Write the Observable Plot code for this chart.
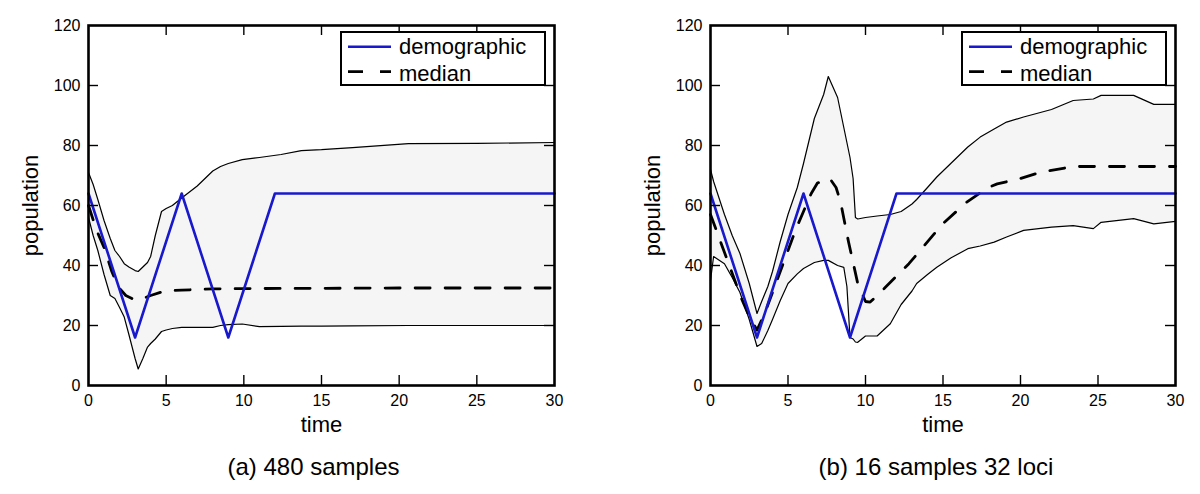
<!DOCTYPE html>
<html><head><meta charset="utf-8">
<script src="https://cdn.jsdelivr.net/npm/d3@7"></script>
<script src="https://cdn.jsdelivr.net/npm/@observablehq/plot@0.6"></script>
<style>
body{margin:0;background:#fff;}
#wrap{display:flex;width:1200px;height:494px;}
svg{display:block;}
</style>
</head><body><div id="wrap"></div>
<script>
// ---- data ----
const xTicks = [0, 5, 10, 15, 20, 25, 30];
const yTicks = [0, 20, 40, 60, 80, 100, 120];

const demoTime = [0, 3, 6, 9, 12, 30];
const demoPop  = [64, 16, 64, 16, 64, 64];

// panel (a) 480 samples
const timeA  = [0,0.3,0.6,1,1.4,1.7,2,2.3,2.6,3,3.2,3.5,3.8,4,4.3,4.7,5,5.4,6,7,8,8.5,9,9.9,11,12.4,13.7,15,17,20.6,25,30];
const upperA = [71,67,62,55,49,45,43,40.6,39.5,38.3,38,39.5,41,43,50,58,59,60,62.5,66.5,71.5,73,74,75.3,76,77,78.3,78.6,79.3,80.6,80.7,81];
const lowerA = [56,50,45,37,30,29,26,22.8,17,9,5.5,9,12.8,14,15.5,18,18.5,19,19.4,19.4,19.4,20,20.3,20.5,19.6,19.7,19.8,19.8,19.9,20,20,20];
const medTimeA = [0,0.5,1,1.5,1.9,2.4,3,3.5,4,4.9,6,8,10,15,20,30];
const medianA  = [60,52,46,38,33,30,28.5,29,30,31.5,31.8,32.2,32.3,32.4,32.5,32.5];

// panel (b) 16 samples 32 loci
const timeB  = [0,0.2,0.9,1.4,1.9,2.5,3,3.3,3.7,4,4.5,5,5.6,6,6.7,7.3,7.6,8.2,8.6,8.8,9.0,9.2,9.35,9.5,10,10.75,11.6,12.3,13,13.3,14,14.6,15.5,16.6,17.4,18.3,19.1,20.2,22,23.4,24.7,25.2,27.3,28.6,30];
const upperB = [72,68,57,50,44,34,24,28,33,38,48,57,66,74,89,97,103,96,86,81,76,69,56,55.5,56,56.5,57,58,60.5,62,66,69.5,74,79.5,82.8,85.5,87.8,89.5,92,95,95.5,96.7,96.7,93.7,93.7];
const lowerB = [35,43,40.6,36,31,22,13,14,18.3,22,28.3,34,37.2,39,41,41.7,41.7,40,39.4,33,16,15.5,14.5,14.4,16.5,16.5,20.6,27,31.5,34,37,39.4,42.5,45.6,46.5,47.8,49.5,51.7,52.8,53.3,52.3,54.4,55.6,53.9,54.7];
const medTimeB = [0,0.5,1,1.5,2,2.5,3,3.5,4,4.5,5,5.5,6,6.5,6.9,7.7,8.1,8.4,8.9,9.5,10,10.3,11.3,12.8,15,16.5,17.9,18.5,20,21.3,23.4,26,30];
const medianB  = [57,50,43,36,29,23,18.5,24,31,38,45,52,58,64,67.5,69,66,61,48,34,28,27.8,32.8,40.6,54,61,66,67.2,69,71.1,73,73,73];

const captions = ["(a) 480 samples", "(b) 16 samples 32 loci"];
const legendLabels = ["demographic", "median"];
const axisLabels = {x: "time", y: "population"};

// ---- drawing ----
const BLUE = "#1818cc";
const FONT = "'Liberation Sans', Arial, Helvetica, sans-serif";
const DASH = "15,15";

function panel({width, marginLeft, marginRight, time, upper, lower, medTime, median, caption, captionDx}) {
  const H = 494, MT = 25, MB = 109;
  const innerW = width - marginLeft - marginRight;
  const innerH = H - MT - MB;
  const env = time.map((t, i) => ({t, hi: upper[i], lo: lower[i]}));
  const med = medTime.map((t, i) => ({t, v: median[i]}));
  const demo = demoTime.map((t, i) => ({t, v: demoPop[i]}));
  const xIn = xTicks.slice(1, -1), yIn = yTicks.slice(1, -1);
  const tk = {stroke: "black", strokeWidth: 1.4};
  const svg = Plot.plot({
    width, height: H, marginTop: MT, marginBottom: MB, marginLeft, marginRight,
    style: {fontFamily: FONT, fontSize: "16px", color: "black", background: "white", overflow: "visible"},
    x: {domain: [0, 30], ticks: xTicks, tickSize: 0, tickPadding: 9, label: null},
    y: {domain: [0, 120], ticks: yTicks, tickSize: 0, tickPadding: 8, label: null},
    marks: [
      Plot.areaY(env, {x: "t", y1: "lo", y2: "hi", fill: "#f5f5f5"}),
      Plot.line(env, {x: "t", y: "hi", stroke: "black", strokeWidth: 1.2}),
      Plot.line(env, {x: "t", y: "lo", stroke: "black", strokeWidth: 1.2}),
      Plot.line(med, {x: "t", y: "v", stroke: "black", strokeWidth: 2.8, strokeDasharray: DASH}),
      Plot.line(demo, {x: "t", y: "v", stroke: BLUE, strokeWidth: 2.6}),
      Plot.tickX(xIn, {x: d => d, insetTop: innerH - 10, ...tk}),
      Plot.tickX(xIn, {x: d => d, insetBottom: innerH - 10, ...tk}),
      Plot.tickY(yIn, {y: d => d, insetRight: innerW - 10, ...tk}),
      Plot.tickY(yIn, {y: d => d, insetLeft: innerW - 10, ...tk}),
      Plot.frame({stroke: "black", strokeWidth: 2.6}),
      Plot.text([axisLabels.x], {text: d => d, frameAnchor: "bottom", dy: 46, fontSize: 22}),
      Plot.text([axisLabels.y], {text: d => d, x: () => 0, y: () => 60, dx: -58, rotate: -90, fontSize: 22}),
      Plot.text([caption], {text: d => d, frameAnchor: "bottom", dy: 89, dx: captionDx, fontSize: 24})
    ]
  });
  // legend box inside the top-right corner of the frame
  const lx = width - marginRight - 9 - 204, ly = 32;
  const g = d3.select(svg).append("g").attr("transform", `translate(${lx},${ly})`)
    .attr("font-family", FONT).attr("font-size", 22).attr("text-anchor", "start");
  g.append("rect").attr("width", 204).attr("height", 53).attr("fill", "white")
    .attr("stroke", "black").attr("stroke-width", 2);
  g.append("line").attr("x1", 7).attr("x2", 50).attr("y1", 14.7).attr("y2", 14.7)
    .attr("stroke", BLUE).attr("stroke-width", 2.6);
  g.append("line").attr("x1", 7).attr("x2", 50).attr("y1", 39.7).attr("y2", 39.7)
    .attr("stroke", "black").attr("stroke-width", 2.8).attr("stroke-dasharray", "15,17");
  g.append("text").attr("x", 58).attr("y", 21.5).attr("fill", "black").attr("text-anchor", "start").text(legendLabels[0]);
  g.append("text").attr("x", 58).attr("y", 48.5).attr("fill", "black").attr("text-anchor", "start").text(legendLabels[1]);
  return svg;
}

const wrap = document.getElementById("wrap");
wrap.append(panel({width: 600, marginLeft: 88, marginRight: 46, time: timeA, upper: upperA, lower: lowerA,
  medTime: medTimeA, median: medianA, caption: captions[0], captionDx: -8}));
wrap.append(panel({width: 600, marginLeft: 110, marginRight: 25, time: timeB, upper: upperB, lower: lowerB,
  medTime: medTimeB, median: medianB, caption: captions[1], captionDx: -7}));
</script></body></html>
